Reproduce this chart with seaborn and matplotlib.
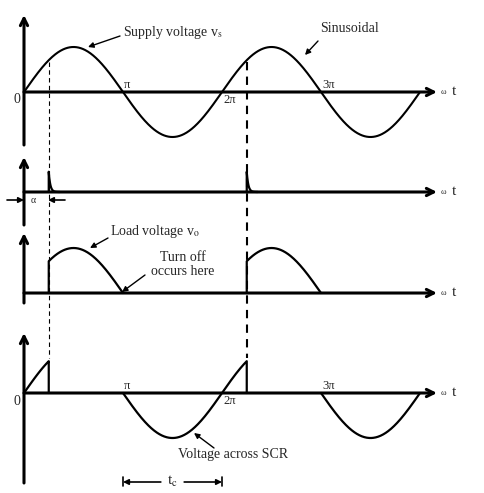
import numpy as np
import matplotlib
matplotlib.use("Agg")
import matplotlib.pyplot as plt
import seaborn as sns

sns.set_style("white")
plt.rcParams["font.family"] = ["Liberation Serif", "DejaVu Serif"]
plt.rcParams["mathtext.fontset"] = "stix"

# === Waveform data ===
alpha = np.pi / 4          # firing angle
amp = 1.0                  # supply amplitude
pulse_h = 0.45             # gate pulse height
cycles_end = 4 * np.pi
theta = np.linspace(0, cycles_end, 900)
tick_pos = [np.pi, 2 * np.pi, 3 * np.pi]
tick_lbl = ["π", "2π", "3π"]

# panel baselines (amplitude units)
base = [0.0, -2.222, -4.467, -6.689]

# pixel -> data helpers (layout only)
PX_RAD = 99 / np.pi
PX_AMP = 45.0
def px(x, y):
    return ((x - 24) / PX_RAD, (92 - y) / PX_AMP)

fig = plt.figure(figsize=(4.85, 4.93), dpi=100)
ax = fig.add_axes([0, 0, 1, 1])
ax.set_xlim(-24 / PX_RAD, 461 / PX_RAD)
ax.set_ylim((92 - 493) / PX_AMP, 92 / PX_AMP)
ax.axis("off")

def line(x, y, **kw):
    sns.lineplot(x=x, y=y, ax=ax, sort=False, estimator=None,
                 color=kw.pop("color", "black"), lw=kw.pop("lw", 1.5),
                 legend=False, **kw)

def arrow(p0, p1, style="->", lw=2.0, ms=12, color="black"):
    ax.annotate("", xy=p1, xytext=p0,
                arrowprops=dict(arrowstyle=style, lw=lw, color=color,
                                mutation_scale=ms, shrinkA=0, shrinkB=0))

# === Axes (coordinate arrows) ===
y_axes = [(15, 145), (157, 225), (233, 303), (333, 483)]
for b, (yt, yb) in zip(base, y_axes):
    arrow(px(24, 0)[0:1] + ((92 - yb) / PX_AMP,), (0, (92 - yt) / PX_AMP), lw=2.2, ms=13)
    arrow((0, b), (px(437, 0)[0], b), lw=2.2, ms=13)
    x0, y0 = px(441, 0)
    ax.text(x0, b, "ω", fontsize=6, va="center", ha="left")
    ax.text(px(452, 0)[0], b + 0.02, "t", fontsize=11, va="center", ha="left")

# === Panel 1: supply voltage ===
line(theta, base[0] + amp * np.sin(theta))

# === Panel 2: gate pulses ===
for start in [alpha, 2 * np.pi + alpha]:
    tp = np.linspace(0, 0.35, 60)
    xp = np.concatenate([[start], start + tp])
    yp = np.concatenate([[base[1]], base[1] + pulse_h * np.exp(-tp / 0.05)])
    line(xp, yp, lw=1.6)

# === Panel 3: load voltage ===
for start in [alpha, 2 * np.pi + alpha]:
    seg = np.linspace(start, start - alpha + np.pi, 200)
    xs = np.concatenate([[start], seg])
    ys = np.concatenate([[base[2]], base[2] + amp * np.sin(seg)])
    line(xs, ys, lw=1.6)

# === Panel 4: voltage across SCR ===
seg = np.linspace(0, alpha, 50)
line(np.concatenate([seg, [alpha]]),
     np.concatenate([base[3] + amp * np.sin(seg), [base[3]]]), lw=1.6)
seg = np.linspace(np.pi, 2 * np.pi + alpha, 300)
line(np.concatenate([seg, [2 * np.pi + alpha]]),
     np.concatenate([base[3] + amp * np.sin(seg), [base[3]]]), lw=1.6)
seg = np.linspace(3 * np.pi, 4 * np.pi, 200)
line(seg, base[3] + amp * np.sin(seg), lw=1.6)

# === Dashed firing lines ===
ax.plot([alpha, alpha], [px(0, 62)[1], px(0, 358)[1]], ls=(0, (4, 3)), lw=0.8, color="black")
ax.plot([2 * np.pi + alpha] * 2, [px(0, 62)[1], px(0, 358)[1]], ls=(0, (4, 3)), lw=1.5, color="black")

# === Tick labels ===
ax.text(px(17, 0)[0], px(0, 100)[1], "0", fontsize=10, ha="center", va="center")
ax.text(px(17, 0)[0], px(0, 402)[1], "0", fontsize=10, ha="center", va="center")
for b in [base[0], base[3]]:
    for p, lbl in zip(tick_pos, tick_lbl):
        if lbl == "2π":
            ax.text(p + 0.05, b - 0.05, lbl, fontsize=9, ha="left", va="top")
        else:
            ax.text(p + 0.03, b + 0.02, lbl, fontsize=9, ha="left", va="bottom")

# === Annotations ===
ax.text(*px(123, 33), "Supply voltage v$_\\mathrm{s}$", fontsize=10, va="center", ha="left")
arrow(px(120, 36), px(88, 47), style="-|>", lw=1.0, ms=8)
ax.text(*px(320, 29), "Sinusoidal", fontsize=10, va="center", ha="left")
arrow(px(318, 41), px(305, 55), style="-|>", lw=1.0, ms=8)

ax.text(*px(110, 232), "Load voltage v$_\\mathrm{o}$", fontsize=10, va="center", ha="left")
arrow(px(108, 238), px(90, 248), style="-|>", lw=1.0, ms=8)
ax.text(*px(183, 265), "Turn off\noccurs here", fontsize=10, va="center", ha="center",
        linespacing=1.1)
arrow(px(145, 275), px(122, 292), style="-|>", lw=1.0, ms=8)

ax.text(*px(178, 455), "Voltage across SCR", fontsize=10, va="center", ha="left")
arrow(px(214, 448), px(194, 433), style="-|>", lw=1.0, ms=8)

# alpha dimension
arrow(px(7, 200), px(24, 200), style="-|>", lw=1.2, ms=8)
arrow(px(65, 200), px(48, 200), style="-|>", lw=1.2, ms=8)
ax.text(*px(33, 201), "α", fontsize=7, ha="center", va="center")

# t_c dimension
yc = px(0, 482)[1]
arrow((np.pi + 1.2, yc), (np.pi, yc), style="-|>", lw=1.2, ms=8)
arrow((2 * np.pi - 1.2, yc), (2 * np.pi, yc), style="-|>", lw=1.2, ms=8)
for xb in [np.pi, 2 * np.pi]:
    ax.plot([xb, xb], [yc - 0.1, yc + 0.1], color="black", lw=1.2)
ax.text(1.5 * np.pi, yc + 0.02, "t$_\\mathrm{c}$", fontsize=11, ha="center", va="center")

fig.savefig("out.png", dpi=100, facecolor="white")
